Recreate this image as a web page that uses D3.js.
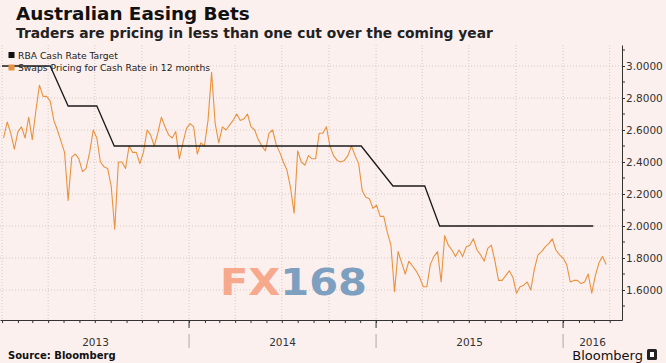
<!DOCTYPE html>
<html>
<head>
<meta charset="utf-8">
<script src="https://cdn.jsdelivr.net/npm/d3@7"></script>
<style>
body{margin:0;background:#fcf0ee;}
svg{display:block;font-family:"DejaVu Sans",Verdana,sans-serif;}
</style>
</head>
<body>
<div id="chart"></div>
<script>
// RBA cash rate target, points where the line bends
const rbaDates = ["2013-01-01","2013-04-05","2013-05-10","2013-07-05","2013-08-08","2014-12-03","2015-02-03","2015-04-06","2015-05-05","2016-02-29"]
const rbaValues = [3.0,3.0,2.75,2.75,2.5,2.5,2.25,2.25,2.0,2.0]

// swaps pricing, one value per week (Fridays)
const swapFirst = "2013-01-04"
const swapLast = "2016-03-25"
const swapValues = [
	2.55,2.65,2.58,2.48,2.59,2.62,2.55,2.68,2.54,2.72,
	2.88,2.81,2.81,2.78,2.66,2.60,2.53,2.46,2.16,2.43,
	2.45,2.42,2.34,2.36,2.46,2.60,2.55,2.40,2.37,2.36,
	2.25,1.98,2.40,2.40,2.36,2.50,2.46,2.46,2.39,2.46,
	2.60,2.57,2.50,2.58,2.68,2.62,2.57,2.55,2.59,2.42,
	2.52,2.61,2.64,2.62,2.45,2.52,2.50,2.66,2.96,2.64,
	2.52,2.62,2.60,2.63,2.66,2.70,2.66,2.67,2.70,2.62,
	2.60,2.54,2.50,2.47,2.58,2.60,2.51,2.46,2.40,2.35,
	2.24,2.08,2.47,2.40,2.38,2.44,2.42,2.42,2.58,2.58,
	2.62,2.50,2.44,2.41,2.40,2.41,2.44,2.50,2.44,2.39,
	2.22,2.18,2.17,2.11,2.13,2.06,2.06,1.96,1.88,1.59,
	1.84,1.77,1.70,1.78,1.75,1.72,1.68,1.62,1.62,1.76,
	1.81,1.84,1.65,1.94,1.88,1.85,1.81,1.85,1.81,1.87,
	1.88,1.92,1.85,1.82,1.78,1.86,1.88,1.78,1.66,1.66,
	1.69,1.72,1.68,1.58,1.62,1.63,1.65,1.60,1.73,1.82,
	1.84,1.87,1.89,1.92,1.85,1.82,1.80,1.76,1.65,1.66,
	1.66,1.64,1.65,1.70,1.58,1.69,1.77,1.81,1.76
]

const yTicks = [1.6,1.8,2.0,2.2,2.4,2.6,2.8,3.0]
const yMinorTicks = [1.5,1.7,1.9,2.1,2.3,2.5,2.7,2.9,3.1]
const yearLabels = ["2013","2014","2015","2016"]
const legendLabels = ["RBA Cash Rate Target","Swaps Pricing for Cash Rate in 12 months"]

const W = 666, H = 363
const plot = {left: 0, right: 622, top: 45, bottom: 320}
const orange = "#e8923f"
const bg = "#fcf0ee"

const parse = d3.timeParse("%Y-%m-%d")

const svg = d3.select("#chart").append("svg")
	.attr("width", W).attr("height", H)

svg.append("rect").attr("width", W).attr("height", H).attr("fill", bg)

const x = d3.scaleTime()
	.domain([new Date(2012, 11, 28), new Date(2016, 3, 25)])
	.range([plot.left, plot.right])

const y = d3.scaleLinear()
	.domain([1.4125, 3.13125])
	.range([plot.bottom, plot.top])

// grid
const quarters = d3.timeMonth.every(3).range(new Date(2013, 0, 1), x.domain()[1])
svg.append("g").selectAll("line").data(quarters).join("line")
	.attr("x1", d => x(d)).attr("x2", d => x(d))
	.attr("y1", plot.top).attr("y2", plot.bottom)
	.attr("stroke", "#d8c9c2").attr("stroke-dasharray", "1,2")

svg.append("g").selectAll("line").data(yTicks).join("line")
	.attr("x1", plot.left).attr("x2", plot.right)
	.attr("y1", d => y(d)).attr("y2", d => y(d))
	.attr("stroke", "#d8c9c2").attr("stroke-dasharray", "1,2")

// watermark
const wm = svg.append("text")
	.attr("x", 220).attr("y", 295)
	.attr("font-size", 37).attr("font-weight", "bold")
	.attr("textLength", 147).attr("lengthAdjust", "spacingAndGlyphs")
wm.append("tspan").attr("fill", "#f6a98c").text("FX")
wm.append("tspan").attr("fill", "#7d9fc0").text("168")

// series
const rba = rbaDates.map((d, i) => ({date: parse(d), value: rbaValues[i]}))
const swapDates = d3.timeFriday.range(parse(swapFirst), d3.timeDay.offset(parse(swapLast), 1))
const swaps = swapValues.map((v, i) => ({date: swapDates[i], value: v})).filter(d => d.date)

const line = d3.line()
	.x(d => x(d.date))
	.y(d => y(d.value))

svg.append("path")
	.datum(swaps)
	.attr("fill", "none")
	.attr("stroke", orange)
	.attr("stroke-width", 1.1)
	.attr("stroke-linejoin", "round")
	.attr("d", line)

svg.append("path")
	.datum(rba)
	.attr("fill", "none")
	.attr("stroke", "#1a1a1a")
	.attr("stroke-width", 1.3)
	.attr("d", line)

// y axis on the right
const yAxis = svg.append("g")
	.attr("transform", `translate(${plot.right},0)`)
	.call(d3.axisRight(y).tickValues(yTicks).tickFormat(d3.format(".4f")).tickSize(3).tickPadding(1).tickSizeOuter(0))
yAxis.selectAll("text").attr("font-size", 10.5).attr("fill", "#333").attr("font-family", "DejaVu Sans")
yAxis.select(".domain").attr("stroke", "#333")
yAxis.selectAll(".tick line").attr("stroke", "#333")
yAxis.append("g").selectAll("line").data(yMinorTicks).join("line")
	.attr("x1", 0).attr("x2", 3)
	.attr("y1", d => y(d)).attr("y2", d => y(d))
	.attr("stroke", "#333")

// x axis
const xAxis = svg.append("g")
	.attr("transform", `translate(0,${plot.bottom})`)
	.call(d3.axisBottom(x).ticks(d3.timeMonth.every(1)).tickFormat("").tickSize(3).tickSizeOuter(0))
xAxis.select(".domain").attr("stroke", "#333")
xAxis.selectAll(".tick line").attr("stroke", "#333")

const yearStarts = yearLabels.map(d => parse(d + "-01-01"))
const yearBounds = yearStarts.slice(1)
xAxis.append("g").selectAll("line").data(yearBounds).join("line")
	.attr("x1", d => x(d)).attr("x2", d => x(d))
	.attr("y1", 0).attr("y2", 8)
	.attr("stroke", "#333")

svg.append("g").selectAll("line").data(yearBounds).join("line")
	.attr("x1", d => x(d)).attr("x2", d => x(d))
	.attr("y1", 334).attr("y2", 348)
	.attr("stroke", "#aaa")

svg.append("g").selectAll("text").data(yearLabels).join("text")
	.attr("x", (d, i) => {
		const a = Math.max(x(yearStarts[i]), plot.left)
		const b = i < yearLabels.length - 1 ? x(yearStarts[i + 1]) : plot.right
		return (a + b) / 2
	})
	.attr("y", 346)
	.attr("text-anchor", "middle")
	.attr("font-size", 10.5)
	.attr("fill", "#333")
	.text(d => d)

// legend
const legendColors = ["#111", orange]
const lg = svg.append("g")
legendLabels.forEach((t, i) => {
	lg.append("rect").attr("x", 8.5).attr("y", 52 + i * 12.5).attr("width", 6).attr("height", 6).attr("fill", legendColors[i])
	lg.append("text").attr("x", 18).attr("y", 59 + i * 12.3).attr("font-size", 9.2).attr("fill", "#222").text(t)
})

// titles, sized to the widths in the original
function fit(sel, width) {
	const w = sel.node().getComputedTextLength()
	sel.attr("font-size", +sel.attr("font-size") * width / w)
}
const title = svg.append("text").attr("x", 16).attr("y", 20)
	.attr("font-size", 17).attr("font-weight", "bold").attr("fill", "#111")
	.text("Australian Easing Bets")
fit(title, 234)
const sub = svg.append("text").attr("x", 16).attr("y", 37.5)
	.attr("font-size", 14).attr("font-weight", "bold").attr("fill", "#222")
	.text("Traders are pricing in less than one cut over the coming year")
fit(sub, 477)

svg.append("text").attr("x", 8).attr("y", 359)
	.attr("font-size", 10).attr("font-weight", "bold").attr("fill", "#111")
	.text("Source: Bloomberg")

const logo = svg.append("text").attr("x", 643).attr("y", 360)
	.attr("text-anchor", "end").attr("font-size", 13).attr("fill", "#111")
	.text("Bloomberg")
svg.append("rect").attr("x", 647).attr("y", 349).attr("width", 10).attr("height", 11).attr("rx", 1.5).attr("fill", "#222")
svg.append("rect").attr("x", 650).attr("y", 352).attr("width", 4).attr("height", 5).attr("fill", "#fff")
</script>
</body>
</html>
